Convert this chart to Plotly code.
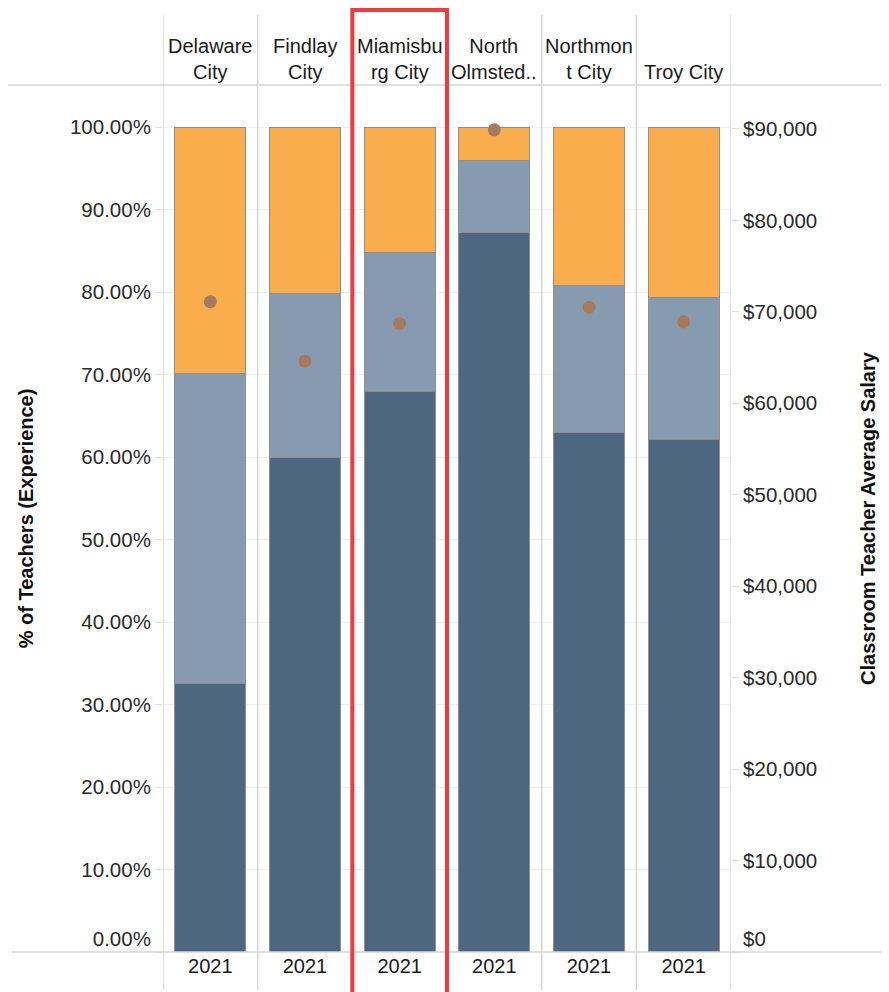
import plotly.graph_objects as go

cities = ["Delaware City", "Findlay City", "Miamisburg City", "North Olmsted City", "Northmont City", "Troy City"]
header_labels = ["Delaware<br>City", "Findlay<br>City", "Miamisbu<br>rg City", "North<br>Olmsted..", "Northmon<br>t City", "Troy City"]
years = ["2021", "2021", "2021", "2021", "2021", "2021"]

# stacked experience segments (% of teachers)
seg_dark = [32.6, 60.0, 68.0, 87.2, 63.0, 62.1]
seg_mid = [37.5, 19.8, 16.8, 8.7, 17.8, 17.3]
seg_orange = [29.9, 20.2, 15.2, 4.1, 19.2, 20.6]

# classroom teacher average salary
salary = [71100, 64600, 68700, 89900, 70500, 68900]

pct_ticks = list(range(0, 101, 10))
pct_labels = [f"{v:.2f}%" for v in pct_ticks]
sal_ticks = list(range(0, 90001, 10000))
sal_labels = [f"${v:,}" for v in sal_ticks]
# bottom labels sit slightly above the baseline, as in the original
pct_labels[0] = pct_labels[0] + "<br>&nbsp;"
sal_labels[0] = sal_labels[0] + "<br>&nbsp;"

FONT = "Liberation Sans, Arial, sans-serif"
W, H = 889, 992
L, R, T, B = 155, 166, 77, 48
PW, PH = W - L - R, H - T - B

fig = go.Figure()
for vals, col in [(seg_dark, "#4e6780"), (seg_mid, "#869bb0"), (seg_orange, "#f9ad4d")]:
    fig.add_trace(go.Bar(x=cities, y=vals, marker=dict(color=col, line=dict(color="#8f8f8f", width=1)),
                         showlegend=False, hoverinfo="skip"))

fig.add_trace(go.Scatter(x=cities, y=salary, mode="markers", yaxis="y2",
                         marker=dict(color="#a67a60", size=13), showlegend=False))

shapes = []
# column separators (header, pane, year band)
for i in range(len(cities) + 1):
    shapes.append(dict(type="line", xref="x", yref="paper", x0=i - 0.5, x1=i - 0.5,
                       y0=-38 / PH, y1=1 + 70 / PH, line=dict(color="#d6d6d6", width=1.5)))
# horizontal borders
shapes.append(dict(type="line", xref="paper", yref="paper", x0=-(L + 10) / PW, x1=(W - L) / PW,
                   y0=1, y1=1, line=dict(color="#d6d6d6", width=1.5)))
shapes.append(dict(type="line", xref="paper", yref="paper", x0=-(L - 4) / PW, x1=(W - L) / PW,
                   y0=0, y1=0, line=dict(color="#d6d6d6", width=1.5)))
# red highlight around Miamisburg
shapes.append(dict(type="rect", xref="x", yref="paper", x0=1.5, x1=2.5,
                   y0=-50 / PH, y1=1 + 75 / PH, line=dict(color="#ef3b3f", width=4)))

annotations = []
for c, lab in zip(cities, header_labels):
    annotations.append(dict(x=c, xref="x", y=1, yref="paper", yanchor="bottom", yshift=0,
                            text=lab, showarrow=False, font=dict(family=FONT, size=20, color="#1a1a1a")))

fig.update_layout(
    width=W, height=H, barmode="stack", bargap=0.25,
    margin=dict(l=L, r=R, t=T, b=B, autoexpand=False),
    plot_bgcolor="white", paper_bgcolor="white",
    font=dict(family=FONT, size=18, color="#333"),
    shapes=shapes, annotations=annotations,
    xaxis=dict(type="category", categoryarray=cities, tickvals=cities, ticktext=years,
               range=[-0.5, len(cities) - 0.5], showgrid=False, zeroline=False, showline=False,
               ticks="", automargin=False, tickfont=dict(size=20, color="#1a1a1a")),
    yaxis=dict(range=[0, 105.1], tickvals=pct_ticks, ticktext=pct_labels,
               showgrid=True, gridcolor="#f0f0f0", zeroline=False, ticks="outside", ticklen=7,
               tickcolor="#e0e0e0", automargin=False, tickfont=dict(size=20.5, color="#2a2a2a"),
               title=dict(text="<b>% of Teachers (Experience)</b>", font=dict(size=20, color="#111"), standoff=30)),
    yaxis2=dict(range=[0, 94800], tickvals=sal_ticks, ticktext=sal_labels,
                overlaying="y", side="right", showgrid=False, zeroline=False, ticks="outside", ticklen=7,
                tickcolor="#e0e0e0", automargin=False, tickfont=dict(size=20.5, color="#2a2a2a"),
                title=dict(text="<b>Classroom Teacher Average Salary</b>", font=dict(size=20, color="#111"), standoff=44)),
)

fig.write_html("out.html")
